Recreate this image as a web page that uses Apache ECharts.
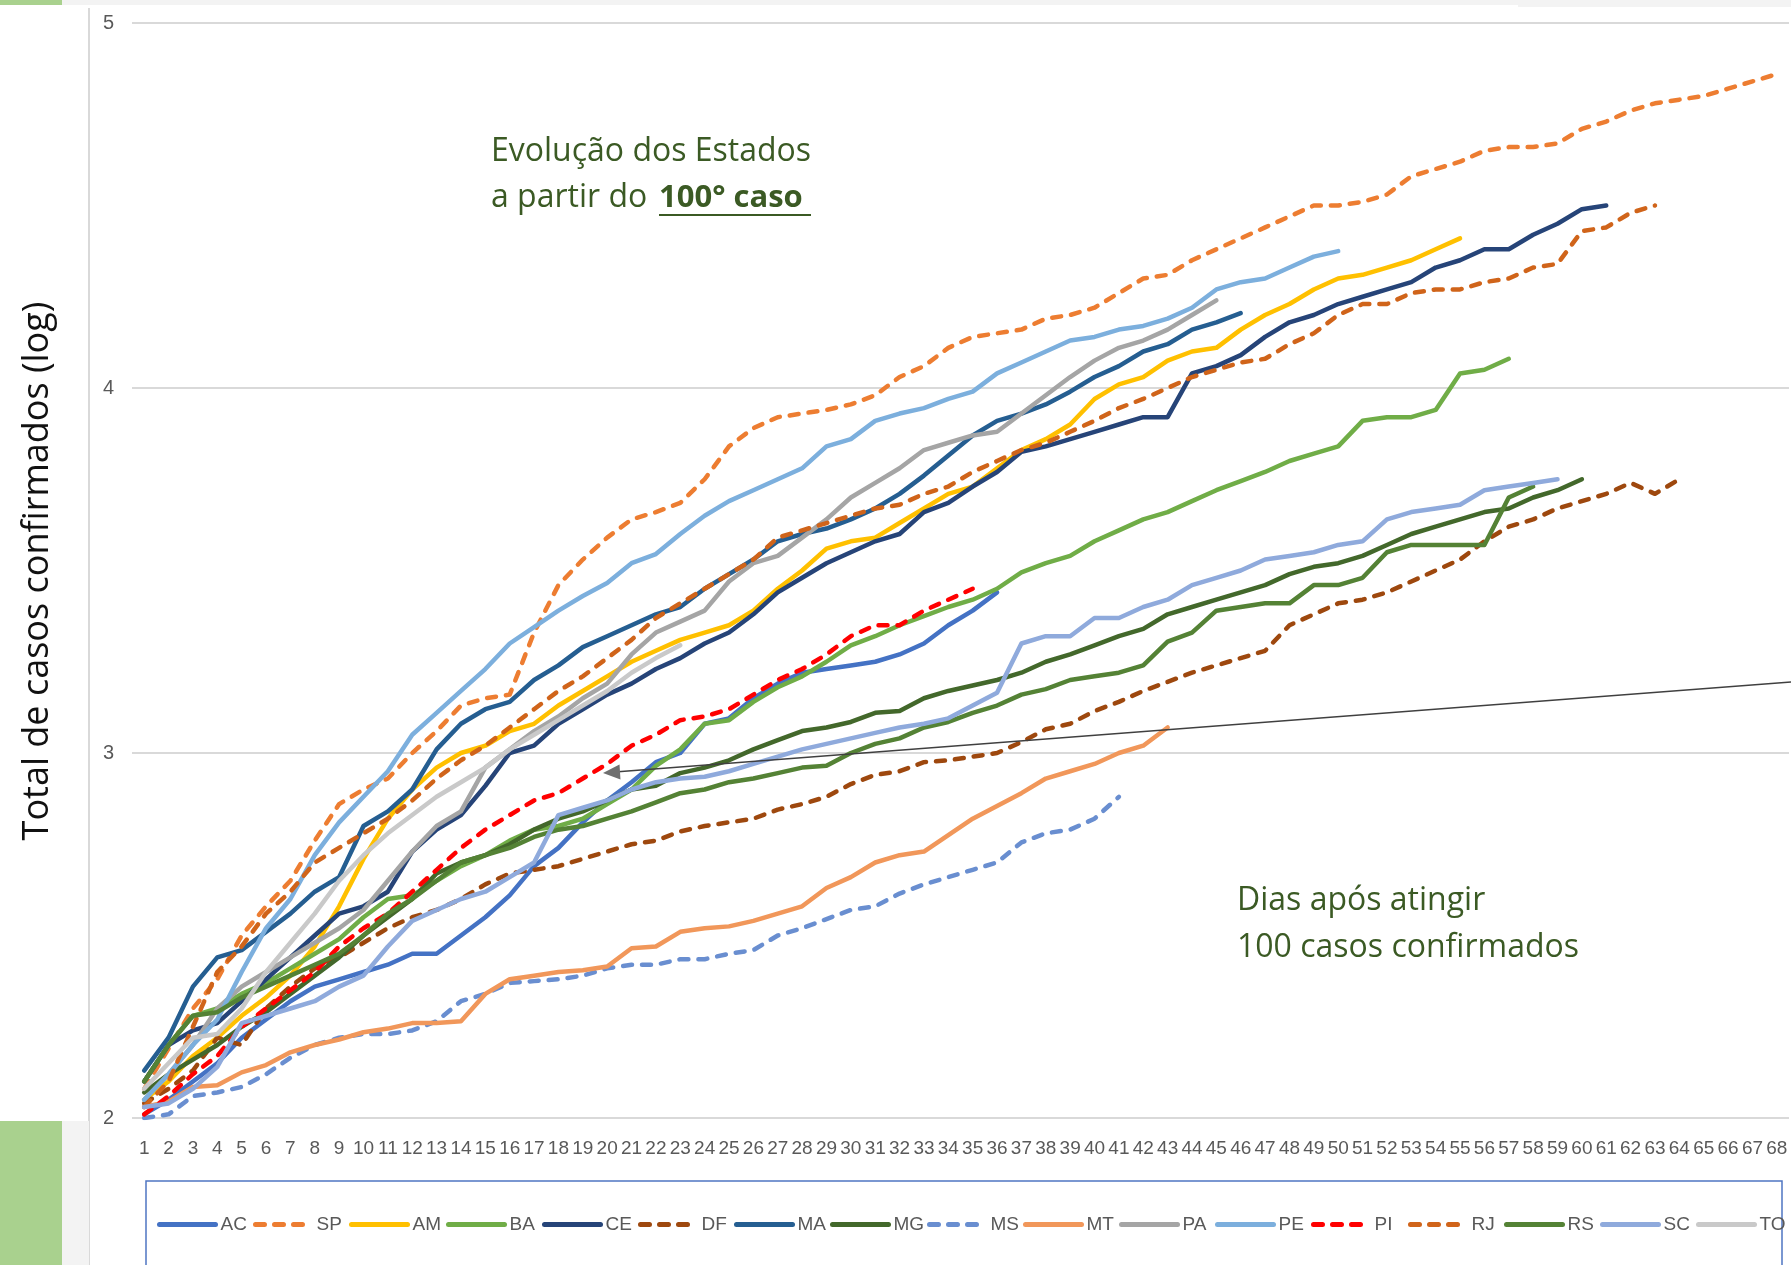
<!DOCTYPE html>
<html><head><meta charset="utf-8">
<script src="https://cdn.jsdelivr.net/npm/echarts@6/dist/echarts.min.js"></script>
<style>html,body{margin:0;padding:0;background:#fff}#c{width:1791px;height:1265px}</style>
</head><body><div id="c"></div>
<script>
// categories: days after reaching 100 cases
const days = ['1','2','3','4','5','6','7','8','9','10','11','12','13','14','15','16','17','18','19','20','21','22','23','24','25','26','27','28','29','30','31','32','33','34','35','36','37','38','39','40','41','42','43','44','45','46','47','48','49','50','51','52','53','54','55','56','57','58','59','60','61','62','63','64','65','66','67','68'];
const yTicks = [2, 3, 4, 5];
// log10 of confirmed cases, per state
const AC = [2.01,2.05,2.10,2.15,2.22,2.27,2.32,2.36,2.38,2.40, 2.42,2.45,2.45,2.50,2.55,2.61,2.69,2.74,2.81,2.87, 2.92,2.975,3.00,3.08,3.095,3.15,3.19,3.22,3.23,3.24, 3.25,3.27,3.30,3.35,3.39,3.44];
const SP = [2.08,2.19,2.30,2.38,2.50,2.58,2.65,2.76,2.86,2.90, 2.93,3.00,3.06,3.13,3.15,3.16,3.33,3.46,3.53,3.59, 3.64,3.66,3.685,3.75,3.84,3.89,3.92,3.93,3.94,3.955, 3.98,4.03,4.06,4.11,4.14,4.15,4.16,4.19,4.20,4.22, 4.26,4.30,4.31,4.35,4.38,4.41,4.44,4.47,4.50,4.50, 4.51,4.53,4.58,4.60,4.62,4.65,4.66,4.66,4.67,4.71, 4.73,4.76,4.78,4.79,4.80,4.82,4.84,4.86];
const AM = [2.05,2.10,2.17,2.22,2.28,2.33,2.39,2.47,2.58,2.71, 2.82,2.90,2.96,3.00,3.02,3.06,3.08,3.13,3.17,3.21, 3.25,3.28,3.31,3.33,3.35,3.39,3.45,3.50,3.56,3.58, 3.59,3.63,3.67,3.71,3.73,3.78,3.83,3.86,3.90,3.97, 4.01,4.03,4.075,4.10,4.11,4.16,4.20,4.23,4.27,4.30, 4.31,4.33,4.35,4.38,4.41];
const BA = [2.10,2.20,2.28,2.30,2.34,2.37,2.41,2.45,2.49,2.55, 2.60,2.61,2.65,2.69,2.72,2.76,2.79,2.80,2.82,2.86, 2.90,2.965,3.01,3.08,3.09,3.14,3.18,3.21,3.25,3.295, 3.32,3.35,3.375,3.40,3.42,3.45,3.495,3.52,3.54,3.58, 3.61,3.64,3.66,3.69,3.72,3.745,3.77,3.80,3.82,3.84, 3.91,3.92,3.92,3.94,4.04,4.05,4.08];
const CE = [2.10,2.20,2.24,2.26,2.32,2.38,2.44,2.50,2.56,2.58, 2.62,2.73,2.79,2.83,2.91,3.00,3.02,3.08,3.12,3.16, 3.19,3.23,3.26,3.30,3.33,3.38,3.44,3.48,3.52,3.55, 3.58,3.60,3.66,3.685,3.73,3.77,3.825,3.84,3.86,3.88, 3.90,3.92,3.92,4.04,4.06,4.09,4.14,4.18,4.20,4.23, 4.25,4.27,4.29,4.33,4.35,4.38,4.38,4.42,4.45,4.49, 4.50];
const DF = [2.04,2.08,2.13,2.22,2.20,2.30,2.36,2.41,2.44,2.48, 2.52,2.55,2.57,2.60,2.64,2.67,2.68,2.69,2.71,2.73, 2.75,2.76,2.785,2.80,2.81,2.82,2.845,2.86,2.88,2.915, 2.94,2.95,2.975,2.98,2.99,3.00,3.03,3.065,3.08,3.115, 3.14,3.17,3.195,3.22,3.24,3.26,3.28,3.35,3.38,3.41, 3.42,3.44,3.47,3.50,3.53,3.58,3.62,3.64,3.67,3.69, 3.71,3.74,3.71,3.75];
const MA = [2.13,2.22,2.36,2.44,2.46,2.51,2.56,2.62,2.66,2.80, 2.84,2.90,3.01,3.08,3.12,3.14,3.20,3.24,3.29,3.32, 3.35,3.38,3.40,3.45,3.49,3.53,3.58,3.60,3.615,3.64, 3.67,3.71,3.76,3.815,3.87,3.91,3.93,3.955,3.99,4.03, 4.06,4.10,4.12,4.16,4.18,4.205];
const MG = [2.07,2.12,2.16,2.20,2.25,2.29,2.34,2.39,2.44,2.50, 2.55,2.60,2.67,2.70,2.72,2.75,2.79,2.82,2.84,2.87, 2.90,2.91,2.945,2.96,2.98,3.01,3.035,3.06,3.07,3.085, 3.11,3.115,3.15,3.17,3.185,3.20,3.22,3.25,3.27,3.295, 3.32,3.34,3.38,3.40,3.42,3.44,3.46,3.49,3.51,3.52, 3.54,3.57,3.60,3.62,3.64,3.66,3.67,3.70,3.72,3.75];
const MS = [2.00,2.01,2.06,2.07,2.085,2.12,2.165,2.20,2.22,2.23, 2.23,2.24,2.265,2.32,2.34,2.37,2.375,2.38,2.39,2.41, 2.42,2.42,2.435,2.435,2.45,2.46,2.50,2.52,2.545,2.57, 2.58,2.615,2.64,2.66,2.68,2.70,2.755,2.78,2.79,2.82, 2.88];
const MT = [2.03,2.045,2.085,2.09,2.125,2.145,2.18,2.20,2.215,2.235, 2.245,2.26,2.26,2.265,2.34,2.38,2.39,2.40,2.405,2.415, 2.465,2.47,2.51,2.52,2.525,2.54,2.56,2.58,2.63,2.66, 2.70,2.72,2.73,2.775,2.82,2.855,2.89,2.93,2.95,2.97, 3.00,3.02,3.07];
const PA = [2.05,2.12,2.20,2.30,2.36,2.40,2.44,2.48,2.52,2.57, 2.65,2.73,2.80,2.84,2.96,3.01,3.06,3.10,3.15,3.19, 3.27,3.33,3.36,3.39,3.47,3.52,3.54,3.59,3.64,3.70, 3.74,3.78,3.83,3.85,3.87,3.88,3.93,3.98,4.03,4.075, 4.11,4.13,4.16,4.20,4.24];
const PE = [2.05,2.12,2.20,2.27,2.40,2.52,2.60,2.72,2.81,2.88, 2.95,3.05,3.11,3.17,3.23,3.30,3.345,3.39,3.43,3.466, 3.52,3.545,3.60,3.65,3.69,3.72,3.75,3.78,3.84,3.86, 3.91,3.93,3.945,3.97,3.99,4.04,4.07,4.10,4.13,4.14, 4.16,4.17,4.19,4.22,4.27,4.29,4.30,4.33,4.36,4.375];
const PI = [2.01,2.06,2.12,2.17,2.25,2.30,2.35,2.40,2.47,2.52, 2.56,2.62,2.68,2.74,2.79,2.83,2.87,2.89,2.93,2.97, 3.02,3.05,3.09,3.10,3.12,3.16,3.20,3.23,3.27,3.32, 3.35,3.35,3.39,3.42,3.45];
const RJ = [2.03,2.10,2.25,2.40,2.47,2.56,2.62,2.70,2.74,2.78, 2.82,2.87,2.93,2.98,3.02,3.07,3.12,3.17,3.21,3.26, 3.31,3.37,3.41,3.45,3.49,3.53,3.59,3.61,3.63,3.65, 3.67,3.68,3.71,3.73,3.77,3.80,3.83,3.85,3.88,3.91, 3.945,3.97,4.00,4.03,4.05,4.07,4.08,4.12,4.15,4.20, 4.23,4.23,4.26,4.27,4.27,4.29,4.30,4.33,4.34,4.43, 4.44,4.48,4.50];
const RS = [2.10,2.20,2.28,2.29,2.33,2.36,2.39,2.42,2.45,2.50, 2.56,2.60,2.65,2.70,2.72,2.74,2.77,2.79,2.80,2.82, 2.84,2.865,2.89,2.90,2.92,2.93,2.945,2.96,2.965,3.00, 3.025,3.04,3.07,3.085,3.11,3.13,3.16,3.175,3.20,3.21, 3.22,3.24,3.305,3.33,3.39,3.40,3.41,3.41,3.46,3.46, 3.48,3.55,3.57,3.57,3.57,3.57,3.70,3.73];
const SC = [2.03,2.04,2.08,2.14,2.26,2.28,2.30,2.32,2.36,2.39, 2.47,2.54,2.57,2.60,2.62,2.66,2.70,2.83,2.85,2.87, 2.90,2.92,2.93,2.935,2.95,2.97,2.99,3.01,3.025,3.04, 3.055,3.07,3.08,3.095,3.13,3.165,3.30,3.32,3.32,3.37, 3.37,3.40,3.42,3.46,3.48,3.50,3.53,3.54,3.55,3.57, 3.58,3.64,3.66,3.67,3.68,3.72,3.73,3.74,3.75];
const TO = [2.08,2.15,2.22,2.23,2.30,2.40,2.48,2.56,2.65,2.72, 2.78,2.83,2.88,2.92,2.96,3.01,3.05,3.09,3.13,3.17, 3.22,3.26,3.295];

const seriesNames = ['AC','SP','AM','BA','CE','DF','MA','MG','MS','MT','PA','PE','PI','RJ','RS','SC','TO'];
const seriesData = [AC,SP,AM,BA,CE,DF,MA,MG,MS,MT,PA,PE,PI,RJ,RS,SC,TO];

// styles
const colors = ['#4472C4','#ED7D31','#FFC000','#70AD47','#264478','#9E480E','#255E91','#43682B','#698ED0','#F1975A','#A5A5A5','#7CAFDD','#FF0000','#D0641A','#548235','#8FAADC','#C9C9C9'];
const dashed = [false,true,false,false,false,true,false,false,true,false,false,false,true,true,false,false,false];
const NARROW = "'Liberation Sans',Arial,sans-serif";
const HUMAN = "'Open Sans','Noto Sans',sans-serif";
const GREEN = '#3B5A24';

const series = seriesNames.map((n, i) => ({
  name: n, type: 'line', data: seriesData[i], symbol: 'none', showSymbol: false,
  silent: true,
  lineStyle: { width: 4.5, color: colors[i], type: dashed[i] ? [9, 10] : 'solid', cap: 'round', join: 'round' },
  itemStyle: { color: colors[i] }
}));

const legends = seriesNames.map((n, i) => ({
  data: [n], left: Math.round(218 + i * 96.2 - 61), top: 1215, padding: 0,
  itemWidth: 56, itemHeight: 18, selectedMode: false,
  itemStyle: { opacity: 0, borderWidth: 0 },
  lineStyle: { width: 5, cap: 'round' },
  textStyle: { fontSize: 19, color: '#595959', fontFamily: NARROW }
}));

const tipX = 603, tipY = 773;
const option = {
  animation: false,
  backgroundColor: '#ffffff',
  grid: { left: 132, right: 2, top: 23, bottom: 147, containLabel: false },
  xAxis: {
    type: 'category', data: days, boundaryGap: true,
    axisLine: { show: false }, axisTick: { show: false }, splitLine: { show: false },
    axisLabel: { interval: 0, margin: 21, fontSize: 19, color: '#595959', fontFamily: NARROW }
  },
  yAxis: {
    type: 'value', min: yTicks[0], max: yTicks[yTicks.length - 1], interval: 1,
    axisLine: { show: false }, axisTick: { show: false },
    splitLine: { lineStyle: { color: '#D9D9D9', width: 2 } },
    axisLabel: { margin: 18, fontSize: 20, color: '#595959', fontFamily: NARROW }
  },
  legend: legends,
  series: series,
  graphic: [
    { type: 'rect', shape: { x: 0, y: 0, width: 1791, height: 5 }, style: { fill: '#F3F3F3' }, silent: true },
    { type: 'rect', shape: { x: 1518, y: 0, width: 273, height: 7 }, style: { fill: '#F3F3F3' }, silent: true },
    { type: 'rect', shape: { x: 0, y: 0, width: 62, height: 5 }, style: { fill: '#A9D18E' }, silent: true },
    { type: 'line', shape: { x1: 89, y1: 8, x2: 89, y2: 1265 }, style: { stroke: '#D9D9D9', lineWidth: 2 }, silent: true },
    { type: 'rect', shape: { x: 62, y: 1121, width: 27, height: 144 }, style: { fill: '#F3F3F3' }, silent: true },
    { type: 'rect', shape: { x: 0, y: 1121, width: 62, height: 144 }, style: { fill: '#A9D18E' }, silent: true },
    { type: 'rect', shape: { x: 146, y: 1181, width: 1636, height: 100 }, style: { fill: 'none', stroke: '#4F75C2', lineWidth: 1.5 }, silent: true, z: -1 },
    { type: 'text', x: 38, y: 571, rotation: Math.PI / 2, silent: true,
      style: { text: 'Total de casos confirmados (log)', fontSize: 36, fontFamily: HUMAN, fill: '#111111', textAlign: 'center', textVerticalAlign: 'middle', align: 'center', verticalAlign: 'middle' } },
    { type: 'text', x: 491, y: 152, silent: true,
      style: { text: 'Evolução dos Estados', fontSize: 32, fontFamily: HUMAN, fill: GREEN, textVerticalAlign: 'middle', verticalAlign: 'middle' } },
    { type: 'text', x: 491, y: 198, silent: true,
      style: { text: 'a partir do', fontSize: 32, fontFamily: HUMAN, fill: GREEN, textVerticalAlign: 'middle', verticalAlign: 'middle' } },
    { type: 'text', x: 659, y: 198, silent: true,
      style: { text: '100° caso', fontSize: 31, fontWeight: 'bold', fontFamily: HUMAN, fill: GREEN, textVerticalAlign: 'middle', verticalAlign: 'middle' } },
    { type: 'line', shape: { x1: 659, y1: 215, x2: 811, y2: 215 }, style: { stroke: GREEN, lineWidth: 2 }, silent: true },
    { type: 'text', x: 1237, y: 901, silent: true,
      style: { text: 'Dias após atingir', fontSize: 32, fontFamily: HUMAN, fill: GREEN, textVerticalAlign: 'middle', verticalAlign: 'middle' } },
    { type: 'text', x: 1237, y: 948, silent: true,
      style: { text: '100 casos confirmados', fontSize: 32, fontFamily: HUMAN, fill: GREEN, textVerticalAlign: 'middle', verticalAlign: 'middle' } },
    { type: 'line', shape: { x1: 1791, y1: 682, x2: 618, y2: 771.8 }, style: { stroke: '#404040', lineWidth: 1.4 }, silent: true, z: 100 },
    { type: 'polygon', shape: { points: [[tipX, tipY], [620.5, 779.5], [619.5, 764.5]] }, style: { fill: '#6F6F6F' }, silent: true, z: 100 }
  ]
};
const chart = echarts.init(document.getElementById('c'), null, { renderer: 'canvas' });
chart.setOption(option);
</script>
</body></html>
